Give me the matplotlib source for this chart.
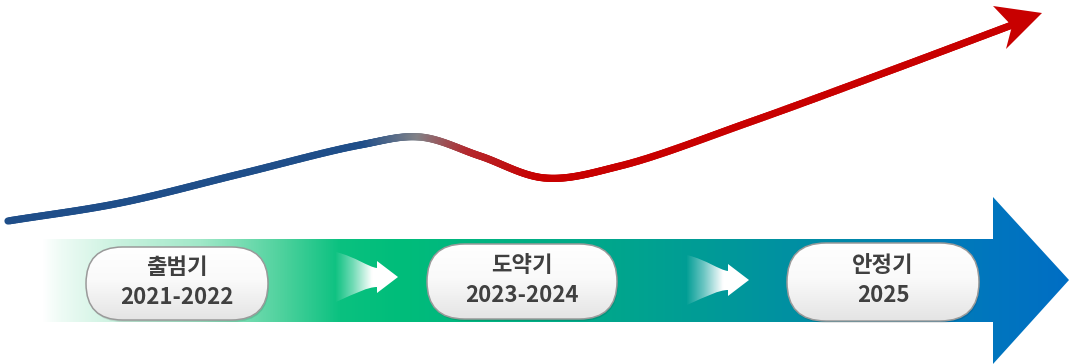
import numpy as np
import matplotlib
matplotlib.use("Agg")
import matplotlib.pyplot as plt
from matplotlib.patches import Polygon, FancyBboxPatch, PathPatch
from matplotlib.path import Path
from matplotlib.collections import LineCollection

# ---- data ----
stages = ["출범기", "도약기", "안정기"]
years = ["2021-2022", "2023-2024", "2025"]
curve_x = [8, 120, 240, 360, 420, 480, 545, 620, 750, 900, 1012]
curve_y = [221, 203, 174, 145, 137, 156, 178, 166, 122, 67, 25]

W, H = 1069, 364
fig = plt.figure(figsize=(W / 100, H / 100), dpi=100)
ax = fig.add_axes([0, 0, 1, 1])
ax.set_xlim(0, W)
ax.set_ylim(H, 0)
ax.axis("off")

FONT = ["Noto Sans CJK KR", "DejaVu Sans"]


def grad_img(stops, n=600, vertical=False):
    pos = np.array([s[0] for s in stops], float)
    cols = np.array([s[1] for s in stops], float)
    t = np.linspace(pos[0], pos[-1], n)
    ch = [np.interp(t, pos, cols[:, k]) for k in range(cols.shape[1])]
    arr = np.stack(ch, axis=-1)
    if cols.shape[1] == 3:
        arr = np.concatenate([arr, np.full((n, 1), 255.0)], axis=-1)
    arr = arr / 255.0
    if vertical:
        return arr[:, None, :].repeat(2, axis=1)
    return arr[None, :, :].repeat(2, axis=0)


# ---- big arrow ----
bx0, bx1, by0, by1 = 42, 993, 239, 322
arrow_pts = [(bx0, by0), (bx1, by0), (bx1, 197), (1069, 280), (bx1, 364), (bx1, by1), (bx0, by1)]
big = Polygon(arrow_pts, closed=True, facecolor="none", edgecolor="none")
ax.add_patch(big)
stops = [(42, (255, 255, 255)), (60, (238, 251, 245)), (120, (200, 241, 222)), (200, (160, 232, 200)),
         (280, (80, 210, 158)), (340, (10, 193, 128)), (400, (0, 189, 122)), (560, (0, 172, 135)),
         (700, (0, 156, 150)), (850, (0, 136, 170)), (990, (0, 118, 190)), (1069, (0, 110, 196))]
im = ax.imshow(grad_img(stops), extent=(42, 1069, 364, 190), aspect="auto", zorder=1)
im.set_clip_path(big)

# ---- small white arrows ----
def small_arrow(tipx, tipy):
    v = [
        (tipx - 62, tipy - 25),
        (tipx - 42, tipy - 20), (tipx - 30, tipy - 10), (tipx - 21, tipy - 9),
        (tipx - 21, tipy - 16),
        (tipx, tipy),
        (tipx - 21, tipy + 16),
        (tipx - 21, tipy + 10),
        (tipx - 30, tipy + 10), (tipx - 42, tipy + 16), (tipx - 62, tipy + 25),
        (tipx - 62, tipy - 25),
    ]
    codes = [Path.MOVETO, Path.CURVE4, Path.CURVE4, Path.CURVE4, Path.LINETO, Path.LINETO,
             Path.LINETO, Path.LINETO, Path.CURVE4, Path.CURVE4, Path.CURVE4, Path.CLOSEPOLY]
    p = PathPatch(Path(v, codes), facecolor="none", edgecolor="none")
    ax.add_patch(p)
    st = [(tipx - 63, (255, 255, 255, 0)), (tipx - 45, (255, 255, 255, 110)),
          (tipx - 26, (255, 255, 255, 255)), (tipx + 2, (255, 255, 255, 255))]
    im2 = ax.imshow(grad_img(st), extent=(tipx - 63, tipx + 2, tipy + 27, tipy - 27),
                    aspect="auto", zorder=2)
    im2.set_clip_path(p)


small_arrow(398, 277)
small_arrow(749, 280)

# ---- pills ----
boxes = [(86, 247, 268, 320), (427, 244, 617, 319), (787, 243, 979, 321)]
for (x0, y0, x1, y1), s, yr in zip(boxes, stages, years):
    h = y1 - y0
    shadow = FancyBboxPatch((x0 + 1, y0 + 2), x1 - x0, h,
                            boxstyle=f"round,pad=0,rounding_size={h / 2}",
                            facecolor=(0, 0, 0, 0.10), edgecolor="none", zorder=3)
    ax.add_patch(shadow)
    pill = FancyBboxPatch((x0, y0), x1 - x0, h, boxstyle=f"round,pad=0,rounding_size={h / 2}",
                          facecolor="none", edgecolor="#9a9a9a", linewidth=1.1, zorder=5)
    ax.add_patch(pill)
    st = [(0, (255, 255, 255)), (0.45, (250, 250, 250)), (1, (228, 228, 228))]
    im3 = ax.imshow(grad_img(st, vertical=True), extent=(x0, x1, y1, y0), aspect="auto", zorder=4)
    im3.set_clip_path(pill)
    cx = (x0 + x1) / 2
    cy = (y0 + y1) / 2
    ax.text(cx, cy - 16, s, ha="center", va="center", fontsize=16, fontweight="bold",
            color="#404040", family=FONT, zorder=6)
    ax.text(cx, cy + 14, yr, ha="center", va="center", fontsize=16, fontweight="bold",
            color="#404040", family=FONT, zorder=6)

# ---- trend curve (centripetal Catmull-Rom through read points) ----
px = np.array(curve_x, float)
py = np.array(curve_y, float)
P = np.stack([px, py], axis=1)
P = np.vstack([P[0] * 2 - P[1], P, P[-1] * 2 - P[-2]])
pts = []
alpha = 0.5
for i in range(1, len(P) - 2):
    p0, p1, p2, p3 = P[i - 1], P[i], P[i + 1], P[i + 2]
    t0 = 0.0
    t1 = t0 + np.linalg.norm(p1 - p0) ** alpha
    t2 = t1 + np.linalg.norm(p2 - p1) ** alpha
    t3 = t2 + np.linalg.norm(p3 - p2) ** alpha
    for t in np.linspace(t1, t2, 50, endpoint=False):
        a1 = (t1 - t) / (t1 - t0) * p0 + (t - t0) / (t1 - t0) * p1
        a2 = (t2 - t) / (t2 - t1) * p1 + (t - t1) / (t2 - t1) * p2
        a3 = (t3 - t) / (t3 - t2) * p2 + (t - t2) / (t3 - t2) * p3
        b1 = (t2 - t) / (t2 - t0) * a1 + (t - t0) / (t2 - t0) * a2
        b2 = (t3 - t) / (t3 - t1) * a2 + (t - t1) / (t3 - t1) * a3
        pts.append((t2 - t) / (t2 - t1) * b1 + (t - t1) / (t2 - t1) * b2)
pts.append(P[-2])
pts = np.array(pts)
segs = np.stack([pts[:-1], pts[1:]], axis=1)
mx = (pts[:-1, 0] + pts[1:, 0]) / 2
cstops = [(0, (31, 78, 137)), (365, (31, 78, 137)), (420, (130, 130, 135)), (470, (180, 40, 45)),
          (540, (200, 0, 0)), (1100, (200, 0, 0))]
cp = np.array([c[0] for c in cstops], float)
cc = np.array([c[1] for c in cstops], float) / 255
cols = np.stack([np.interp(mx, cp, cc[:, k]) for k in range(3)], axis=1)
lc = LineCollection(segs, colors=cols, linewidths=5.2, capstyle="round", joinstyle="round", zorder=7)
ax.add_collection(lc)
head = Polygon([(1042, 13), (993, 6), (1012, 26), (1006, 49)], closed=True,
               facecolor=(200 / 255, 0, 0), edgecolor="none", zorder=8)
ax.add_patch(head)

ax.set_xlim(0, W)
ax.set_ylim(H, 0)
fig.savefig("out.png", dpi=100)
